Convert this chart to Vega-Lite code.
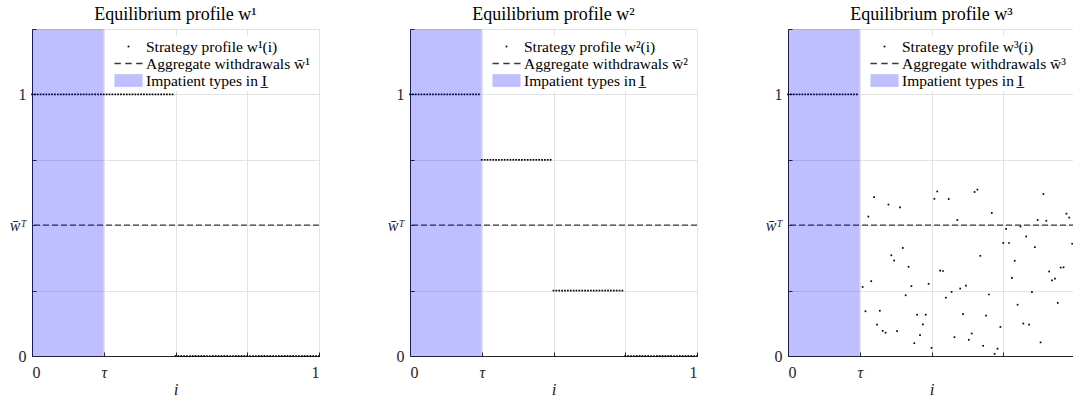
{
"$schema": "https://vega.github.io/schema/vega-lite/v6.json",
"background": "white",
"padding": {"left": 9, "top": 5, "right": 0, "bottom": 0},
"bounds": "flush",
"spacing": 91,
"config": {
  "view": {"stroke": null},
  "font": "Liberation Serif, DejaVu Serif, serif",
  "title": {"fontSize": 18, "fontWeight": "normal", "color": "#000000", "font": "Liberation Serif, DejaVu Serif, serif", "offset": 5},
  "axis": {"domainColor": "#262626", "domainWidth": 1, "tickColor": "#262626", "tickSize": -4, "labelColor": "#262626", "labelFont": "Liberation Serif, DejaVu Serif, serif", "labelFontSize": 16, "gridColor": "#e3e3e3", "gridOpacity": 1, "gridWidth": 1, "titleFont": "Liberation Serif, DejaVu Serif, serif", "titleFontSize": 17, "titleFontWeight": "normal", "titleColor": "#262626", "labelAngle": 0},
  "axisX": {"labelPadding": 12},
  "axisY": {"labelPadding": 10},
  "legend": {"orient": "top-right", "offset": 7, "labelFont": "Liberation Serif, DejaVu Serif, serif", "labelFontSize": 15.5, "labelColor": "#000000", "labelOffset": 9, "rowPadding": 0, "padding": 2, "fillColor": "white", "strokeColor": null, "labelLimit": 300, "symbolSize": 289, "symbolStrokeWidth": 0, "symbolOpacity": 1}
},
"datasets": {
  "d1": [
    {"i":0,"w":1},{"i":0.01,"w":1},{"i":0.02,"w":1},{"i":0.03,"w":1},{"i":0.04,"w":1},{"i":0.05,"w":1},{"i":0.06,"w":1},{"i":0.07,"w":1},{"i":0.08,"w":1},{"i":0.09,"w":1},
    {"i":0.1,"w":1},{"i":0.11,"w":1},{"i":0.12,"w":1},{"i":0.13,"w":1},{"i":0.14,"w":1},{"i":0.15,"w":1},{"i":0.16,"w":1},{"i":0.17,"w":1},{"i":0.18,"w":1},{"i":0.19,"w":1},
    {"i":0.2,"w":1},{"i":0.21,"w":1},{"i":0.22,"w":1},{"i":0.23,"w":1},{"i":0.24,"w":1},{"i":0.25,"w":1},{"i":0.26,"w":1},{"i":0.27,"w":1},{"i":0.28,"w":1},{"i":0.29,"w":1},
    {"i":0.3,"w":1},{"i":0.31,"w":1},{"i":0.32,"w":1},{"i":0.33,"w":1},{"i":0.34,"w":1},{"i":0.35,"w":1},{"i":0.36,"w":1},{"i":0.37,"w":1},{"i":0.38,"w":1},{"i":0.39,"w":1},
    {"i":0.4,"w":1},{"i":0.41,"w":1},{"i":0.42,"w":1},{"i":0.43,"w":1},{"i":0.44,"w":1},{"i":0.45,"w":1},{"i":0.46,"w":1},{"i":0.47,"w":1},{"i":0.48,"w":1},{"i":0.49,"w":1},
    {"i":0.5,"w":0},{"i":0.51,"w":0},{"i":0.52,"w":0},{"i":0.53,"w":0},{"i":0.54,"w":0},{"i":0.55,"w":0},{"i":0.56,"w":0},{"i":0.57,"w":0},{"i":0.58,"w":0},{"i":0.59,"w":0},
    {"i":0.6,"w":0},{"i":0.61,"w":0},{"i":0.62,"w":0},{"i":0.63,"w":0},{"i":0.64,"w":0},{"i":0.65,"w":0},{"i":0.66,"w":0},{"i":0.67,"w":0},{"i":0.68,"w":0},{"i":0.69,"w":0},
    {"i":0.7,"w":0},{"i":0.71,"w":0},{"i":0.72,"w":0},{"i":0.73,"w":0},{"i":0.74,"w":0},{"i":0.75,"w":0},{"i":0.76,"w":0},{"i":0.77,"w":0},{"i":0.78,"w":0},{"i":0.79,"w":0},
    {"i":0.8,"w":0},{"i":0.81,"w":0},{"i":0.82,"w":0},{"i":0.83,"w":0},{"i":0.84,"w":0},{"i":0.85,"w":0},{"i":0.86,"w":0},{"i":0.87,"w":0},{"i":0.88,"w":0},{"i":0.89,"w":0},
    {"i":0.9,"w":0},{"i":0.91,"w":0},{"i":0.92,"w":0},{"i":0.93,"w":0},{"i":0.94,"w":0},{"i":0.95,"w":0},{"i":0.96,"w":0},{"i":0.97,"w":0},{"i":0.98,"w":0},{"i":0.99,"w":0},
    {"i":1,"w":0}
  ],
  "d2": [
    {"i":0,"w":1},{"i":0.01,"w":1},{"i":0.02,"w":1},{"i":0.03,"w":1},{"i":0.04,"w":1},{"i":0.05,"w":1},{"i":0.06,"w":1},{"i":0.07,"w":1},{"i":0.08,"w":1},{"i":0.09,"w":1},
    {"i":0.1,"w":1},{"i":0.11,"w":1},{"i":0.12,"w":1},{"i":0.13,"w":1},{"i":0.14,"w":1},{"i":0.15,"w":1},{"i":0.16,"w":1},{"i":0.17,"w":1},{"i":0.18,"w":1},{"i":0.19,"w":1},
    {"i":0.2,"w":1},{"i":0.21,"w":1},{"i":0.22,"w":1},{"i":0.23,"w":1},{"i":0.24,"w":1},
    {"i":0.25,"w":0.75},{"i":0.26,"w":0.75},{"i":0.27,"w":0.75},{"i":0.28,"w":0.75},{"i":0.29,"w":0.75},
    {"i":0.3,"w":0.75},{"i":0.31,"w":0.75},{"i":0.32,"w":0.75},{"i":0.33,"w":0.75},{"i":0.34,"w":0.75},{"i":0.35,"w":0.75},{"i":0.36,"w":0.75},{"i":0.37,"w":0.75},{"i":0.38,"w":0.75},{"i":0.39,"w":0.75},
    {"i":0.4,"w":0.75},{"i":0.41,"w":0.75},{"i":0.42,"w":0.75},{"i":0.43,"w":0.75},{"i":0.44,"w":0.75},{"i":0.45,"w":0.75},{"i":0.46,"w":0.75},{"i":0.47,"w":0.75},{"i":0.48,"w":0.75},{"i":0.49,"w":0.75},
    {"i":0.5,"w":0.25},{"i":0.51,"w":0.25},{"i":0.52,"w":0.25},{"i":0.53,"w":0.25},{"i":0.54,"w":0.25},{"i":0.55,"w":0.25},{"i":0.56,"w":0.25},{"i":0.57,"w":0.25},{"i":0.58,"w":0.25},{"i":0.59,"w":0.25},
    {"i":0.6,"w":0.25},{"i":0.61,"w":0.25},{"i":0.62,"w":0.25},{"i":0.63,"w":0.25},{"i":0.64,"w":0.25},{"i":0.65,"w":0.25},{"i":0.66,"w":0.25},{"i":0.67,"w":0.25},{"i":0.68,"w":0.25},{"i":0.69,"w":0.25},
    {"i":0.7,"w":0.25},{"i":0.71,"w":0.25},{"i":0.72,"w":0.25},{"i":0.73,"w":0.25},{"i":0.74,"w":0.25},
    {"i":0.75,"w":0},{"i":0.76,"w":0},{"i":0.77,"w":0},{"i":0.78,"w":0},{"i":0.79,"w":0},
    {"i":0.8,"w":0},{"i":0.81,"w":0},{"i":0.82,"w":0},{"i":0.83,"w":0},{"i":0.84,"w":0},{"i":0.85,"w":0},{"i":0.86,"w":0},{"i":0.87,"w":0},{"i":0.88,"w":0},{"i":0.89,"w":0},
    {"i":0.9,"w":0},{"i":0.91,"w":0},{"i":0.92,"w":0},{"i":0.93,"w":0},{"i":0.94,"w":0},{"i":0.95,"w":0},{"i":0.96,"w":0},{"i":0.97,"w":0},{"i":0.98,"w":0},{"i":0.99,"w":0},
    {"i":1,"w":0}
  ],
  "d3": [
    {"i":0,"w":1},{"i":0.01,"w":1},{"i":0.02,"w":1},{"i":0.03,"w":1},{"i":0.04,"w":1},{"i":0.05,"w":1},{"i":0.06,"w":1},{"i":0.07,"w":1},{"i":0.08,"w":1},{"i":0.09,"w":1},
    {"i":0.1,"w":1},{"i":0.11,"w":1},{"i":0.12,"w":1},{"i":0.13,"w":1},{"i":0.14,"w":1},{"i":0.15,"w":1},{"i":0.16,"w":1},{"i":0.17,"w":1},{"i":0.18,"w":1},{"i":0.19,"w":1},
    {"i":0.2,"w":1},{"i":0.21,"w":1},{"i":0.22,"w":1},{"i":0.23,"w":1},{"i":0.24,"w":1},
    {"i":0.26,"w":0.264},{"i":0.27,"w":0.171},{"i":0.28,"w":0.533},{"i":0.29,"w":0.286},
    {"i":0.3,"w":0.607},{"i":0.31,"w":0.12},{"i":0.32,"w":0.173},{"i":0.33,"w":0.096},{"i":0.34,"w":0.089},{"i":0.35,"w":0.579},{"i":0.36,"w":0.385},{"i":0.37,"w":0.365},{"i":0.38,"w":0.095},{"i":0.39,"w":0.568},
    {"i":0.4,"w":0.413},{"i":0.41,"w":0.232},{"i":0.42,"w":0.341},{"i":0.43,"w":0.267},{"i":0.44,"w":0.049},{"i":0.45,"w":0.158},{"i":0.46,"w":0.08},{"i":0.47,"w":0.121},{"i":0.48,"w":0.158},{"i":0.49,"w":0.276},
    {"i":0.5,"w":0.031},{"i":0.51,"w":0.601},{"i":0.52,"w":0.629},{"i":0.53,"w":0.326},{"i":0.54,"w":0.325},{"i":0.55,"w":0.223},{"i":0.56,"w":0.6},{"i":0.57,"w":0.245},{"i":0.58,"w":0.072},{"i":0.59,"w":0.52},
    {"i":0.6,"w":0.258},{"i":0.61,"w":0.16},{"i":0.62,"w":0.269},{"i":0.63,"w":0.062},{"i":0.64,"w":0.086},{"i":0.65,"w":0.627},{"i":0.66,"w":0.636},{"i":0.67,"w":0.383},{"i":0.68,"w":0.039},{"i":0.69,"w":0.154},
    {"i":0.7,"w":0.235},{"i":0.71,"w":0.547},{"i":0.72,"w":0.008},{"i":0.73,"w":0.028},{"i":0.74,"w":0.111},{"i":0.75,"w":0.432},{"i":0.76,"w":0.486},{"i":0.77,"w":0.432},{"i":0.78,"w":0.299},{"i":0.79,"w":0.364},
    {"i":0.8,"w":0.196},{"i":0.81,"w":0.495},{"i":0.82,"w":0.124},{"i":0.83,"w":0.457},{"i":0.84,"w":0.12},{"i":0.85,"w":0.244},{"i":0.86,"w":0.416},{"i":0.87,"w":0.52},{"i":0.88,"w":0.052},{"i":0.89,"w":0.619},
    {"i":0.9,"w":0.517},{"i":0.91,"w":0.323},{"i":0.92,"w":0.289},{"i":0.93,"w":0.296},{"i":0.94,"w":0.203},{"i":0.95,"w":0.338},{"i":0.96,"w":0.339},{"i":0.97,"w":0.544},{"i":0.98,"w":0.529},{"i":0.99,"w":0.429}
  ]
},
"resolve": {"scale": {"color": "independent", "shape": "independent", "x": "independent", "y": "independent"}, "legend": {"color": "independent", "shape": "independent"}},
"hconcat": [
  {
    "width": 287, "height": 327,
    "title": "Equilibrium profile w\u00b9",
    "layer": [
      {"data": {"name": "d1"},
       "mark": {"type": "point", "filled": true, "opacity": 1, "strokeWidth": 0, "size": 289},
       "encoding": {
         "x": {"field": "i", "type": "quantitative", "scale": {"domain": [0, 1], "nice": false, "zero": false},
               "axis": {"values": [0, 0.25, 0.5, 0.75, 1], "grid": true, "title": "i", "titleFontStyle": "italic", "titlePadding": 1,
                        "labelExpr": "datum.value == 0 ? '0' : datum.value == 0.25 ? '\u03c4' : datum.value == 1 ? '1' : ''",
                        "labelFontStyle": {"condition": {"test": "datum.value == 0.25", "value": "italic"}, "value": "normal"}}},
         "y": {"field": "w", "type": "quantitative", "scale": {"domain": [0, 1.25], "nice": false},
               "axis": {"values": [0, 0.25, 0.5, 0.75, 1, 1.25], "grid": true, "title": null,
                        "labelExpr": "datum.value == 0 ? '0' : datum.value == 0.5 ? 'w\u0304\u1d40' : datum.value == 1 ? '1' : ''",
                        "labelFontStyle": {"condition": {"test": "datum.value == 0.5", "value": "italic"}, "value": "normal"}}},
         "color": {"datum": "Strategy profile w\u00b9(i)", "type": "nominal",
                   "scale": {"domain": ["Strategy profile w\u00b9(i)", "Aggregate withdrawals w\u0304\u00b9", "Impatient types in I\u0332"], "range": ["#000000", "#383838", "#bfbfff"]},
                   "legend": {"title": null}},
         "shape": {"datum": "Strategy profile w\u00b9(i)", "type": "nominal",
                   "scale": {"domain": ["Strategy profile w\u00b9(i)", "Aggregate withdrawals w\u0304\u00b9", "Impatient types in I\u0332"], "range": ["M-0.1,-0.1H0.1V0.1H-0.1Z", "M-1.65,-0.08H-0.9V0.08H-1.65Z M-0.375,-0.08H0.375V0.08H-0.375Z M0.9,-0.08H1.65V0.08H0.9Z", "M-1.65,-0.75H1.65V0.75H-1.65Z"]},
                   "legend": {"title": null}}
       }},
      {"data": {"values": [{"wbar": 0.5}]},
       "mark": {"type": "rule", "color": "#383838", "strokeDash": [6, 3], "strokeWidth": 1.2},
       "encoding": {"y": {"field": "wbar", "type": "quantitative"}}},
      {"data": {"values": [{"lo": 0, "hi": 0.25}]},
       "mark": {"type": "rect", "color": "#0000ff", "opacity": 0.25},
       "encoding": {"x": {"field": "lo", "type": "quantitative"}, "x2": {"field": "hi"}}}
    ]
  },
  {
    "width": 287, "height": 327,
    "title": "Equilibrium profile w\u00b2",
    "layer": [
      {"data": {"name": "d2"},
       "mark": {"type": "point", "filled": true, "opacity": 1, "strokeWidth": 0, "size": 289},
       "encoding": {
         "x": {"field": "i", "type": "quantitative", "scale": {"domain": [0, 1], "nice": false, "zero": false},
               "axis": {"values": [0, 0.25, 0.5, 0.75, 1], "grid": true, "title": "i", "titleFontStyle": "italic", "titlePadding": 1,
                        "labelExpr": "datum.value == 0 ? '0' : datum.value == 0.25 ? '\u03c4' : datum.value == 1 ? '1' : ''",
                        "labelFontStyle": {"condition": {"test": "datum.value == 0.25", "value": "italic"}, "value": "normal"}}},
         "y": {"field": "w", "type": "quantitative", "scale": {"domain": [0, 1.25], "nice": false},
               "axis": {"values": [0, 0.25, 0.5, 0.75, 1, 1.25], "grid": true, "title": null,
                        "labelExpr": "datum.value == 0 ? '0' : datum.value == 0.5 ? 'w\u0304\u1d40' : datum.value == 1 ? '1' : ''",
                        "labelFontStyle": {"condition": {"test": "datum.value == 0.5", "value": "italic"}, "value": "normal"}}},
         "color": {"datum": "Strategy profile w\u00b2(i)", "type": "nominal",
                   "scale": {"domain": ["Strategy profile w\u00b2(i)", "Aggregate withdrawals w\u0304\u00b2", "Impatient types in I\u0332"], "range": ["#000000", "#383838", "#bfbfff"]},
                   "legend": {"title": null}},
         "shape": {"datum": "Strategy profile w\u00b2(i)", "type": "nominal",
                   "scale": {"domain": ["Strategy profile w\u00b2(i)", "Aggregate withdrawals w\u0304\u00b2", "Impatient types in I\u0332"], "range": ["M-0.1,-0.1H0.1V0.1H-0.1Z", "M-1.65,-0.08H-0.9V0.08H-1.65Z M-0.375,-0.08H0.375V0.08H-0.375Z M0.9,-0.08H1.65V0.08H0.9Z", "M-1.65,-0.75H1.65V0.75H-1.65Z"]},
                   "legend": {"title": null}}
       }},
      {"data": {"values": [{"wbar": 0.5}]},
       "mark": {"type": "rule", "color": "#383838", "strokeDash": [6, 3], "strokeWidth": 1.2},
       "encoding": {"y": {"field": "wbar", "type": "quantitative"}}},
      {"data": {"values": [{"lo": 0, "hi": 0.25}]},
       "mark": {"type": "rect", "color": "#0000ff", "opacity": 0.25},
       "encoding": {"x": {"field": "lo", "type": "quantitative"}, "x2": {"field": "hi"}}}
    ]
  },
  {
    "width": 287, "height": 327,
    "title": "Equilibrium profile w\u00b3",
    "layer": [
      {"data": {"name": "d3"},
       "mark": {"type": "point", "filled": true, "opacity": 1, "strokeWidth": 0, "size": 289},
       "encoding": {
         "x": {"field": "i", "type": "quantitative", "scale": {"domain": [0, 1], "nice": false, "zero": false},
               "axis": {"values": [0, 0.25, 0.5, 0.75, 1], "grid": true, "title": "i", "titleFontStyle": "italic", "titlePadding": 1,
                        "labelExpr": "datum.value == 0 ? '0' : datum.value == 0.25 ? '\u03c4' : ''",
                        "labelFontStyle": {"condition": {"test": "datum.value == 0.25", "value": "italic"}, "value": "normal"}}},
         "y": {"field": "w", "type": "quantitative", "scale": {"domain": [0, 1.25], "nice": false},
               "axis": {"values": [0, 0.25, 0.5, 0.75, 1, 1.25], "grid": true, "title": null,
                        "labelExpr": "datum.value == 0 ? '0' : datum.value == 0.5 ? 'w\u0304\u1d40' : datum.value == 1 ? '1' : ''",
                        "labelFontStyle": {"condition": {"test": "datum.value == 0.5", "value": "italic"}, "value": "normal"}}},
         "color": {"datum": "Strategy profile w\u00b3(i)", "type": "nominal",
                   "scale": {"domain": ["Strategy profile w\u00b3(i)", "Aggregate withdrawals w\u0304\u00b3", "Impatient types in I\u0332"], "range": ["#000000", "#383838", "#bfbfff"]},
                   "legend": {"title": null}},
         "shape": {"datum": "Strategy profile w\u00b3(i)", "type": "nominal",
                   "scale": {"domain": ["Strategy profile w\u00b3(i)", "Aggregate withdrawals w\u0304\u00b3", "Impatient types in I\u0332"], "range": ["M-0.1,-0.1H0.1V0.1H-0.1Z", "M-1.65,-0.08H-0.9V0.08H-1.65Z M-0.375,-0.08H0.375V0.08H-0.375Z M0.9,-0.08H1.65V0.08H0.9Z", "M-1.65,-0.75H1.65V0.75H-1.65Z"]},
                   "legend": {"title": null}}
       }},
      {"data": {"values": [{"wbar": 0.5}]},
       "mark": {"type": "rule", "color": "#383838", "strokeDash": [6, 3], "strokeWidth": 1.2},
       "encoding": {"y": {"field": "wbar", "type": "quantitative"}}},
      {"data": {"values": [{"lo": 0, "hi": 0.25}]},
       "mark": {"type": "rect", "color": "#0000ff", "opacity": 0.25},
       "encoding": {"x": {"field": "lo", "type": "quantitative"}, "x2": {"field": "hi"}}}
    ]
  }
]
}
